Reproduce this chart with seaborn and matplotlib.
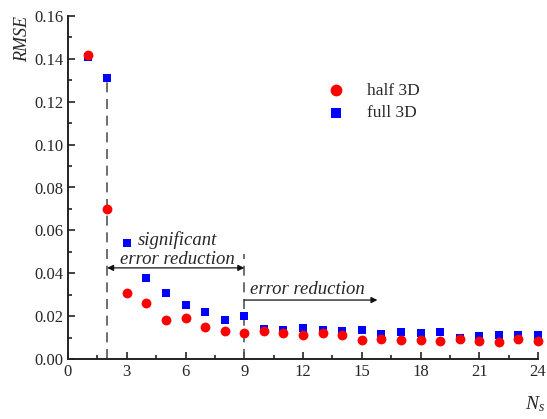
import numpy as np
import pandas as pd
import matplotlib
matplotlib.use("Agg")
import matplotlib.pyplot as plt
from matplotlib.ticker import MultipleLocator, FormatStrFormatter
import seaborn as sns

# Number of sensors
n_sensors = list(range(1, 25))

# RMSE for the half-3D model
rmse_half = [0.142, 0.070, 0.031, 0.026, 0.018, 0.019, 0.015, 0.013, 0.012, 0.013,
             0.012, 0.011, 0.012, 0.011, 0.009, 0.0095, 0.009, 0.009, 0.0085, 0.0095,
             0.0085, 0.008, 0.0093, 0.0085]

# RMSE for the full-3D model
rmse_full = [0.141, 0.131, 0.054, 0.038, 0.031, 0.025, 0.022, 0.018, 0.020, 0.014,
             0.0135, 0.0145, 0.0137, 0.0132, 0.0134, 0.0117, 0.0125, 0.0123, 0.0125, 0.010,
             0.0107, 0.0113, 0.011, 0.011]

series_names = ["half 3D", "full 3D"]

df = pd.DataFrame({
    "Ns": n_sensors * 2,
    "RMSE": rmse_half + rmse_full,
    "model": [series_names[0]] * len(n_sensors) + [series_names[1]] * len(n_sensors),
})

sns.set_style("ticks")
plt.rcParams["font.family"] = ["Liberation Serif", "DejaVu Serif"]
plt.rcParams["mathtext.fontset"] = "custom"
plt.rcParams["mathtext.it"] = "Liberation Serif:italic"
plt.rcParams["mathtext.rm"] = "Liberation Serif"

fig = plt.figure(figsize=(5.47, 4.19), dpi=100)
ax = fig.add_axes([68 / 547, 1 - 359 / 419, (538 - 68) / 547, (359 - 16) / 419])

# full 3D drawn first so the red circles sit on top
sns.scatterplot(data=df[df.model == "full 3D"], x="Ns", y="RMSE", ax=ax,
                marker="s", color="#0000ff", s=30, linewidth=0, zorder=3,
                label="full 3D", clip_on=False)
sns.scatterplot(data=df[df.model == "half 3D"], x="Ns", y="RMSE", ax=ax,
                marker="o", color="#ff0000", s=50, linewidth=0, zorder=4,
                label="half 3D", clip_on=False)

ax.set_xlim(0, 24)
ax.set_ylim(0, 0.16)
ax.xaxis.set_major_locator(MultipleLocator(3))
ax.xaxis.set_minor_locator(MultipleLocator(1.5))
ax.yaxis.set_major_locator(MultipleLocator(0.02))
ax.yaxis.set_minor_locator(MultipleLocator(0.01))
ax.yaxis.set_major_formatter(FormatStrFormatter("%.2f"))
ax.tick_params(which="both", direction="in", width=1.2, labelsize=12, color="#222222")
ax.tick_params(which="major", length=5)
ax.tick_params(which="minor", length=3)
sns.despine(ax=ax)
for sp in ("left", "bottom"):
    ax.spines[sp].set_linewidth(1.4)
    ax.spines[sp].set_color("#222222")

ax.set_xlabel("")
ax.set_ylabel("")
fig.text(23 / 547, 1 - 39 / 419, "RMSE", rotation=90,
         fontsize=13, style="italic", ha="center", va="center")
fig.text(545 / 547, 1 - 404 / 419, r"$N_s$", fontsize=14,
         ha="right", va="center")

# Legend with half 3D listed first
handles, labels = ax.get_legend_handles_labels()
order = [labels.index(n) for n in series_names]
ax.legend([handles[i] for i in order], [labels[i] for i in order],
          loc="upper left", bbox_to_anchor=(0.5, 0.851), frameon=False,
          fontsize=12.5, handletextpad=0.8, labelspacing=0.35, markerscale=1.2)

# Annotation guides
dash = dict(color="#555555", lw=1.2, ls=(0, (6, 4)), zorder=2)
ax.plot([2, 2], [0, 0.131], **dash)
ax.plot([9, 9], [0, 0.049], **dash)

ax.annotate("", xy=(2, 0.0425), xytext=(9, 0.0425),
            arrowprops=dict(arrowstyle="<|-|>", color="#111111", lw=0.9,
                            mutation_scale=9, shrinkA=0, shrinkB=0))
ax.text(3.58, 0.0556, "significant", fontsize=13.5, style="italic", va="center", ha="left")
ax.text(5.57, 0.0465, "error reduction", fontsize=13.5, style="italic", va="center", ha="center")

ax.annotate("", xy=(15.8, 0.0275), xytext=(9, 0.0275),
            arrowprops=dict(arrowstyle="-|>", color="#111111", lw=0.9,
                            mutation_scale=9, shrinkA=0, shrinkB=0))
ax.text(9.3, 0.0322, "error reduction", fontsize=13.5, style="italic", va="center", ha="left")

fig.savefig("out.png", dpi=100)
